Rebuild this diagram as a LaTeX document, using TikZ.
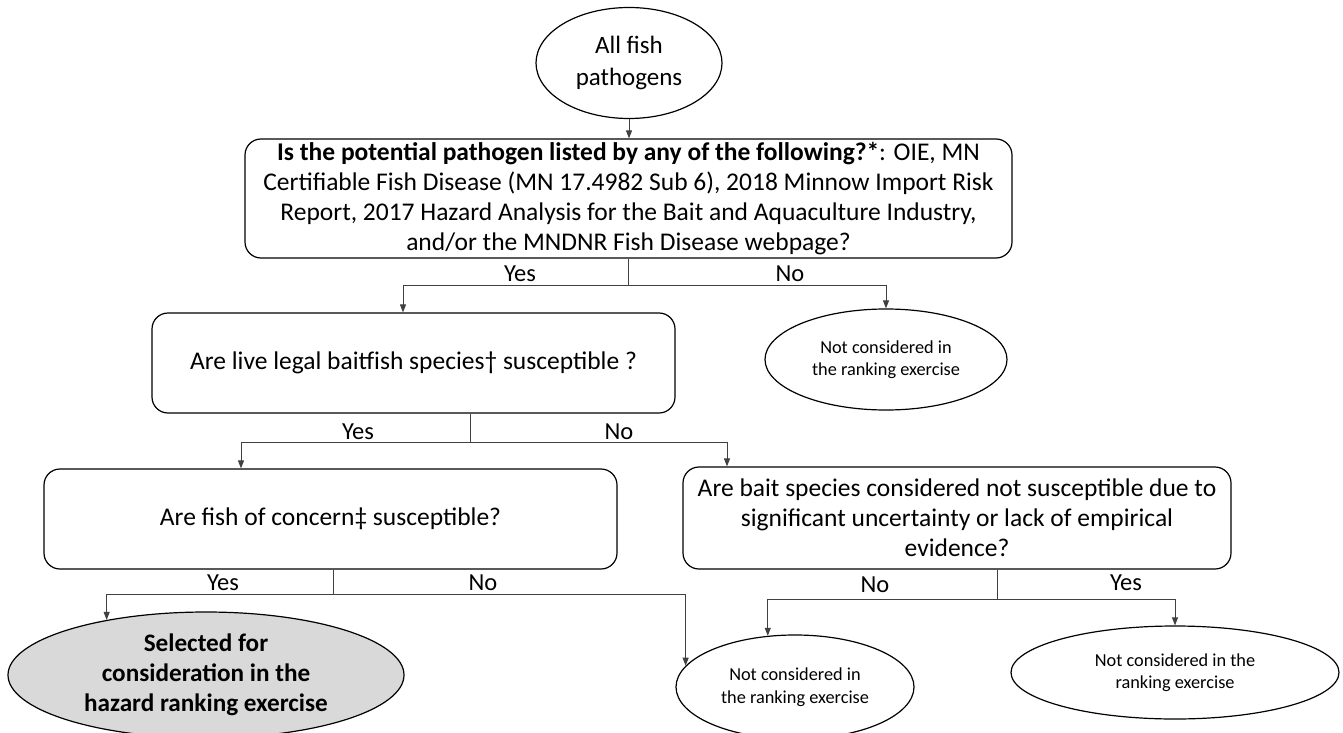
\documentclass[tikz,border=0pt]{standalone}
\usepackage{fontspec}
\setmainfont{Carlito}
\usetikzlibrary{shapes.geometric,arrows.meta,calc}
\begin{document}
\begin{tikzpicture}[x=1pt,y=-1pt,
  qbox/.style={draw, line width=1.2pt, rounded corners=16pt, align=center, inner sep=0pt,
               font=\fontsize{25.5}{29.8}\selectfont},
  oval/.style={draw, ellipse, line width=1.2pt, align=center, inner sep=0pt},
  bigtext/.style={font=\fontsize{25}{32}\selectfont},
  smalltext/.style={font=\fontsize{18.3}{22.5}\selectfont},
  seltext/.style={font=\bfseries\fontsize{25.2}{30}\selectfont},
  conn/.style={line width=0.9pt, black!75},
  arr/.style={conn, -{Triangle[length=8pt,width=6pt]}},
  lbl/.style={font=\fontsize{24.5}{29}\selectfont, inner sep=0pt}]
\fill[white] (0,0) rectangle (1343,733);
\useasboundingbox (0,0) rectangle (1343,733);

% nodes
\node[oval, bigtext, minimum width=186pt, minimum height=111pt] (start) at (629,63) {All fish\\pathogens};
\node[qbox, minimum width=767pt, minimum height=119pt] (q1) at (628.5,198.5)
  {\textbf{Is the potential pathogen listed by any of the following?*}: OIE, MN\\
   Certifiable Fish Disease (MN 17.4982 Sub 6), 2018 Minnow Import Risk\\
   Report, 2017 Hazard Analysis for the Bait and Aquaculture Industry,\\
   and/or the MNDNR Fish Disease webpage?};
\node[qbox, minimum width=523pt, minimum height=100pt] (q2) at (413.5,363)
  {Are live legal baitfish species† susceptible ?};
\node[oval, smalltext, minimum width=242pt, minimum height=101pt] (n1) at (886,359.5)
  {Not considered in\\the ranking exercise};
\node[qbox, minimum width=573pt, minimum height=100pt] (q3) at (330.5,519)
  {Are fish of concern‡ susceptible?};
\node[qbox, minimum width=548pt, minimum height=102pt] (q4) at (957,518)
  {Are bait species considered not susceptible due to\\
   significant uncertainty or lack of empirical\\
   evidence?};
\node[oval, fill=black!15, seltext, minimum width=396pt, minimum height=126pt] (sel) at (206,675)
  {Selected for\\consideration in the\\hazard ranking exercise};
\node[oval, smalltext, minimum width=238pt, minimum height=104pt] (nb) at (795,687)
  {Not considered in\\the ranking exercise};
\node[oval, smalltext, minimum width=328pt, minimum height=93pt] (nc) at (1175,672.5)
  {Not considered in the\\ranking exercise};

% junction coordinates
\coordinate (j1) at (628.5,285);
\coordinate (a1) at (403,285);
\coordinate (j2) at (470,442);
\coordinate (a2) at (241,442);
\coordinate (b2) at (727,442);
\coordinate (j3) at (333,594);
\coordinate (j4) at (997,599);

% connectors
\draw[arr] (start.south) -- (start.south |- q1.north);

\draw[conn] (q1.south) -- (j1);
\draw[arr] (j1) -- (a1) -- (a1 |- q2.north);
\draw[arr] (j1) -| (n1.north);

\draw[conn] (j2 |- q2.south) -- (j2);
\draw[arr] (j2) -- (a2) -- (a2 |- q3.north);
\draw[arr] (j2) -- (b2) -- (b2 |- q4.north);

\draw[conn] (j3 |- q3.south) -- (j3);
\draw[arr] (j3) -| (sel.151);
\draw[arr] (j3) -| (nb.169);

\draw[conn] (j4 |- q4.south) -- (j4);
\draw[arr] (j4) -| (nb.118);
\draw[arr] (j4) -| (nc.north);

% labels
\node[lbl] (l1y) at (520,274) {Yes};
\node[lbl] (l1n) at (790,274) {No};
\node[lbl] (l2y) at (358,432) {Yes};
\node[lbl] (l2n) at (619,432) {No};
\node[lbl] (l3y) at (223,583) {Yes};
\node[lbl] (l3n) at (483,583) {No};
\node[lbl] (l4n) at (875,585) {No};
\node[lbl] (l4y) at (1126,583) {Yes};
\end{tikzpicture}
\end{document}
